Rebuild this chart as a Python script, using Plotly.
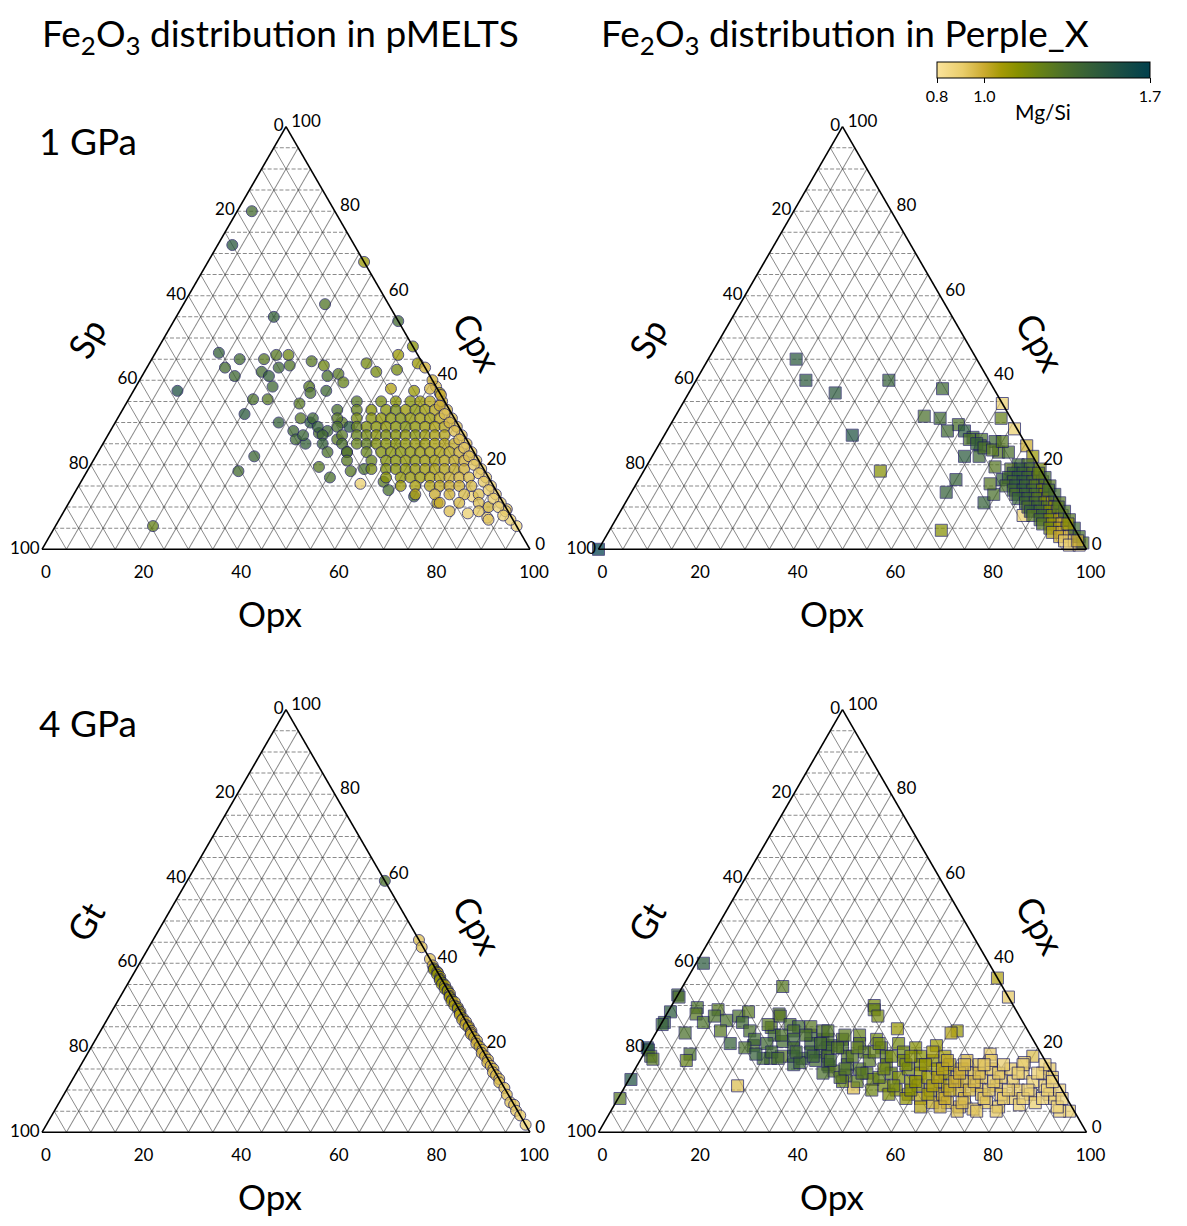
import plotly.graph_objects as go

# ---------------- data: pMELTS 1 GPa (Cpx, Sp, Opx, Mg/Si) ----------------
P1_CPX = [80, 72, 68, 58, 55, 54, 48, 46, 44, 43, 46.5, 43, 41, 45, 45, 42, 41, 46, 46, 43.5,
          43, 38.5, 44.5, 43.5, 41, 41.5, 39.5, 37.5, 38.5, 37, 37.5, 35.5, 35.5, 32, 22, 18.5,
          5.5, 44, 42, 38, 42.5, 37.5, 38.5, 37, 34.5, 31, 28, 30, 26, 25, 27.5, 30, 28, 30, 26, 29,
          23, 18.5, 17, 19.5, 15.5, 19, 16, 14, 12.5, 11, 8.5, 7.5, 10, 5.5, 9.5, 12.5,
          35, 35, 35, 35, 35, 35, 35,
          33, 33, 33, 33, 33, 33, 33, 33, 33, 33,
          31, 31, 31, 31, 31, 31, 31, 31, 31, 31, 31, 31,
          29, 29, 29, 29, 29, 29, 29, 29, 29, 29, 29, 29, 29,
          27, 27, 27, 27, 27, 27, 27, 27, 27, 27, 27, 27, 27, 27,
          25, 25, 25, 25, 25, 25, 25, 25, 25, 25, 25, 25, 25, 25,
          23, 23, 23, 23, 23, 23, 23, 23, 23, 23, 23, 23, 23,
          21, 21, 21, 21, 21, 21, 21, 21, 21, 21, 21, 21,
          19, 19, 19, 19, 19, 19, 19, 19, 19, 19, 19,
          17, 17, 17, 17, 17, 17, 17, 17, 17, 17,
          15, 15, 15, 15, 15, 15, 15, 15,
          13, 13, 13, 13, 13, 13,
          11, 11, 11, 11,
          9, 9, 9,
          7, 7,
          40, 38, 36.5, 34, 32, 30, 28, 26, 24, 22, 20, 18, 16, 14, 12, 10, 8]
P1_OPX = [3, 3, 32, 29, 20, 46, 52, 50, 55, 57, 13, 16, 19, 18, 23, 24, 26, 25, 27.5, 29,
          27, 28, 33, 36, 38, 40, 42, 39.5, 35.5, 36.5, 9, 25.5, 28.5, 25.5, 32.5, 31,
          20, 44.5, 47.5, 52.5, 51.5, 57.5, 61.5, 63, 35.5, 37.5, 37.5, 33.5, 39, 41.5, 43, 40, 44.5, 46.5, 47.5, 48.5,
          51, 54, 50.5, 47, 57.5, 56.5, 62, 64, 70, 75.5, 83, 87.5, 86.5, 94.5, 90.5, 82,
          47, 52, 55, 58, 60, 62, 64.5,
          44, 48, 51, 54, 56, 58, 60, 62, 64, 66.5,
          40, 45, 49, 52, 54, 56, 58, 60, 62, 64, 66, 68.5,
          42, 46, 50, 52, 54, 56, 58, 60, 62, 64, 66, 68, 70.5,
          40, 44, 48, 51, 53, 55, 57, 59, 61, 63, 65, 67, 69, 72.5,
          45, 49, 52, 54, 56, 58, 60, 62, 64, 66, 68, 70, 72, 74.5,
          47, 51, 55, 58, 60, 62, 64, 66, 68, 70, 72, 74, 76.5,
          52, 57, 60, 62, 64, 66, 68, 70, 72, 74, 76, 78.5,
          58, 61, 63, 65, 67, 69, 71, 73, 75, 77, 80.5,
          62, 65, 67, 69, 71, 73, 75, 77, 79, 82.5,
          66, 69, 72, 74, 76, 78, 80.5, 84.5,
          70, 74, 77, 80, 83, 86.5,
          76, 80, 84, 88.5,
          79, 85, 90.5,
          88, 92.5,
          60, 60.5, 63.5, 64.5, 66.5, 68.5, 70.5, 72.5, 74.5, 76.5, 78.5, 80.5, 82.5, 84.5, 86.5, 88.5, 90.5]
P1_SP = [17, 25, 0, 13, 25, 0, 0, 4, 1, 0, 40.5, 41, 40, 37, 32, 34, 33, 29, 26.5, 27.5,
         30, 33.5, 22.5, 20.5, 21, 18.5, 18.5, 23, 26, 26.5, 53.5, 39, 36, 42.5, 45.5, 50.5,
         74.5, 11.5, 10.5, 9.5, 6, 5, 0, 0, 30, 31.5, 34.5, 36.5, 35, 33.5, 29.5, 30, 27.5, 23.5, 26.5, 22.5,
         26, 27.5, 32.5, 33.5, 27, 24.5, 22, 22, 17.5, 13.5, 8.5, 5, 3.5, 0, 0, 5.5,
         18, 13, 10, 7, 5, 3, 0.5,
         23, 19, 16, 13, 11, 9, 7, 5, 3, 0.5,
         29, 24, 20, 17, 15, 13, 11, 9, 7, 5, 3, 0.5,
         29, 25, 21, 19, 17, 15, 13, 11, 9, 7, 5, 3, 0.5,
         33, 29, 25, 22, 20, 18, 16, 14, 12, 10, 8, 6, 4, 0.5,
         30, 26, 23, 21, 19, 17, 15, 13, 11, 9, 7, 5, 3, 0.5,
         30, 26, 22, 19, 17, 15, 13, 11, 9, 7, 5, 3, 0.5,
         27, 22, 19, 17, 15, 13, 11, 9, 7, 5, 3, 0.5,
         23, 20, 18, 16, 14, 12, 10, 8, 6, 4, 0.5,
         21, 18, 16, 14, 12, 10, 8, 6, 4, 0.5,
         19, 16, 13, 11, 9, 7, 4.5, 0.5,
         17, 13, 10, 7, 4, 0.5,
         13, 9, 5, 0.5,
         12, 6, 0.5,
         5, 0.5,
         0, 1.5, 0, 1.5, 1.5, 1.5, 1.5, 1.5, 1.5, 1.5, 1.5, 1.5, 1.5, 1.5, 1.5, 1.5, 1.5]
P1_MG = [1.38, 1.50, 1.10, 1.32, 1.45, 1.38, 1.15, 1.10, 1.10, 1.00, 1.45, 1.38, 1.40, 1.38, 1.30, 1.38, 1.45, 1.30, 1.22, 1.32,
         1.40, 1.40, 1.30, 1.22, 1.35, 1.30, 1.25, 1.40, 1.30, 1.35, 1.55, 1.35, 1.30, 1.50, 1.42, 1.38,
         1.25, 1.20, 1.20, 1.05, 1.20, 1.10, 0.95, 1.05, 1.30, 1.30, 1.40, 1.45, 1.40, 1.45, 1.35, 1.50, 1.40, 1.30, 1.30, 1.50,
         1.30, 1.30, 1.35, 1.30, 0.90, 1.35, 1.30, 1.35, 1.40, 1.05, 0.90, 0.90, 1.00, 0.88, 0.95, 0.88,
         1.30, 1.20, 1.15, 1.15, 1.10, 1.05, 1.00,
         1.35, 1.25, 1.15, 1.15, 1.20, 1.10, 1.15, 1.10, 1.05, 0.97,
         1.40, 1.30, 1.20, 1.15, 1.13, 1.15, 1.17, 1.13, 1.10, 1.10, 1.05, 0.97,
         1.45, 1.35, 1.25, 1.17, 1.15, 1.13, 1.15, 1.17, 1.13, 1.10, 1.07, 1.05, 0.95,
         1.43, 1.40, 1.30, 1.25, 1.20, 1.15, 1.17, 1.15, 1.13, 1.15, 1.10, 1.07, 1.05, 0.95,
         1.45, 1.35, 1.25, 1.27, 1.17, 1.15, 1.15, 1.13, 1.11, 1.10, 1.07, 1.05, 1.02, 0.95,
         1.35, 1.33, 1.25, 1.17, 1.15, 1.15, 1.13, 1.11, 1.09, 1.07, 1.05, 1.01, 0.93,
         1.30, 1.25, 1.17, 1.15, 1.13, 1.13, 1.10, 1.09, 1.05, 1.03, 1.00, 0.93,
         1.20, 1.17, 1.15, 1.13, 1.11, 1.09, 1.07, 1.05, 1.03, 1.00, 0.92,
         1.15, 1.13, 1.11, 1.10, 1.07, 1.05, 1.02, 1.00, 0.97, 0.92,
         1.10, 1.07, 1.05, 1.03, 1.01, 1.00, 0.97, 0.91,
         1.05, 1.01, 1.00, 0.97, 0.95, 0.91,
         1.00, 0.97, 0.95, 0.91,
         0.95, 0.93, 0.90,
         0.93, 0.90,
         1.00, 0.97, 1.00, 1.00, 0.95, 0.97, 0.95, 0.95, 0.93, 0.95, 0.93, 0.92, 0.92, 0.91, 0.91, 0.90, 0.90]

# ---------------- data: Perple_X 1 GPa ----------------
P2_CPX = [45, 40, 37, 40, 38, 34.5, 31, 28.5, 31.5, 31, 27, 18.5, 24.5, 29.5, 28, 28, 26.5, 26, 25.5, 24.5,
          23, 23, 22, 22, 19.5, 16.5, 13.5, 11, 13, 15.5, 16.5, 8, 4.5, 0, 22, 26, 25, 24, 23.5, 25.5,
          20, 20, 19, 19, 19, 18, 18, 18, 17, 17, 17, 17, 16, 16, 16, 16, 15, 15, 15, 15, 15,
          14, 14, 14, 14, 13, 13, 13, 13, 12, 12, 12, 12, 11, 11, 11, 11, 10, 10, 10, 10,
          9, 9, 9, 9, 8, 8, 8, 8, 7, 7, 7, 6, 6, 6, 5, 5, 5, 4, 4, 4, 3, 3, 2, 2, 1, 1,
          19, 17, 15, 13, 11, 9, 7, 5, 3, 1.5, 18, 14, 10, 6, 2]
P2_OPX = [18, 22.5, 30, 39.5, 51.5, 65.5, 67, 71, 51, 54.5, 38.5, 48.5, 75.5, 59, 57.5, 61, 63.5, 65.5, 68.5, 66,
          70.5, 72.5, 64, 67, 71.5, 65, 64.5, 73.5, 74.5, 72.5, 74.5, 83, 68, 0, 78, 63, 65, 67, 69, 70,
          76, 78, 75, 77, 79, 76, 78, 80, 75.5, 77.5, 79.5, 81.5, 77, 79, 81, 83, 76, 78, 80, 82, 84,
          78, 80, 82, 84, 79, 81, 83, 85, 80, 82, 84, 86, 82, 84, 86, 87.5, 83, 85, 87, 88.5,
          84, 86, 88, 89.5, 85, 87, 89, 91, 87, 89, 91, 88, 90, 92, 90, 92, 93.5, 91, 93, 94.5, 93, 95, 94.5, 96.5, 96, 98,
          81, 83, 85, 87, 89, 91, 93, 95, 97, 98.5, 81.2, 85.2, 89.2, 93.2, 97.2]
P2_SP = [37, 37.5, 33, 20.5, 10.5, 0, 2, 0.5, 17.5, 14.5, 34.5, 33, 0, 11.5, 14.5, 11, 10, 8.5, 6, 9.5,
         6.5, 4.5, 14, 11, 9, 18.5, 22, 15.5, 12.5, 12, 9, 9, 27.5, 100, 0, 11, 10, 9, 7.5, 4.5,
         4, 2, 6, 4, 2, 6, 4, 2, 7.5, 5.5, 3.5, 1.5, 7, 5, 3, 1, 9, 7, 5, 3, 1,
         8, 6, 4, 2, 8, 6, 4, 2, 8, 6, 4, 2, 7, 5, 3, 1.5, 7, 5, 3, 1.5,
         7, 5, 3, 1.5, 7, 5, 3, 1, 6, 4, 2, 6, 4, 2, 5, 3, 1.5, 5, 3, 1.5, 4, 2, 3.5, 1.5, 3, 1,
         0, 0, 0, 0, 0, 0, 0, 0, 0, 0, 0.8, 0.8, 0.8, 0.8, 0.8]
P2_MG = [1.50, 1.50, 1.50, 1.45, 1.40, 0.90, 1.25, 0.90, 1.35, 1.40, 1.55, 1.15, 1.00, 1.35, 1.40, 1.50, 1.40, 1.35, 1.40, 1.40,
         1.30, 1.35, 1.50, 1.40, 1.30, 1.45, 1.45, 1.45, 1.35, 1.30, 1.45, 0.90, 1.15, 1.70, 1.10, 1.35, 1.45, 1.35, 1.30, 1.30,
         1.40, 1.35, 1.30, 1.45, 1.35, 1.45, 1.40, 1.30, 1.40, 1.45, 1.40, 1.25, 1.40, 1.45, 1.35, 1.20, 1.35, 1.45, 1.40, 1.30, 1.15,
         1.40, 1.45, 1.35, 1.20, 1.35, 1.40, 1.35, 1.15, 1.45, 1.40, 1.30, 1.10, 1.40, 1.35, 1.20, 1.05, 1.35, 1.40, 1.30, 1.10,
         1.45, 1.35, 1.15, 1.00, 1.30, 1.40, 1.20, 1.00, 1.35, 1.15, 1.05, 1.30, 1.10, 1.00, 1.20, 1.05, 0.95, 1.05, 1.00, 0.95, 1.00, 0.95, 0.92, 0.90, 0.90, 0.88,
         1.20, 1.35, 1.30, 1.40, 1.30, 1.35, 1.30, 1.40, 1.35, 1.30, 1.25, 1.35, 1.30, 1.10, 1.00]

# ---------------- data: pMELTS 4 GPa (Cpx, Gt, Opx, Mg/Si) ----------------
P3_CPX = [59.5, 45.5, 43.8, 41, 39.5, 38.8, 38.5, 38, 37.7, 37.3, 36.8, 36.3, 36, 35.4, 35, 34.8, 34, 33.7, 33.4, 32.8,
          32.3, 32, 31.4, 31, 30.8, 30, 29.6, 29.2, 28.5, 28.2, 27.8, 27, 26.6, 26.2, 25.5, 25.1, 24.8, 24, 23.6, 23.2,
          22.5, 21.7, 21, 20.3, 19.5, 18.8, 18, 17.2, 16.5, 15.7, 15, 14.2, 13.5, 12.6, 11.8, 10.5, 8.9, 7.1, 6.5, 5.1,
          4.0, 1.8]
P3_GT = [0, 0, 0.3, 0, 0.2, 0.3, 0.5, 0, 0, 0.4, 0, 0.3, 0.5, 0.2, 0.6, 0, 0.5, 0, 0.2, 0,
         0.3, 0.5, 0.3, 0.6, 0, 0.5, 0, 0.2, 0, 0.3, 0.5, 0.2, 0.6, 0, 0.5, 0, 0.2, 0, 0.3, 0.5,
         0.2, 0, 0.5, 0.2, 0, 0.5, 0.2, 0, 0.5, 0.2, 0, 0.5, 0.2, 0, 0.4, 0, 0.3, 0.5, 0, 0.3,
         0, 0]
P3_OPX = [40.5, 54.5, 55.9, 59, 60.3, 60.9, 61, 62, 62.3, 62.3, 63.2, 63.4, 63.5, 64.4, 64.4, 65.2, 65.5, 66.3, 66.4, 67.2,
          67.4, 67.5, 68.3, 68.4, 69.2, 69.5, 70.4, 70.6, 71.5, 71.5, 71.7, 72.8, 72.8, 73.8, 74, 74.9, 75, 76, 76.1, 76.3,
          77.3, 78.3, 78.5, 79.5, 80.5, 80.7, 81.8, 82.8, 83, 84.1, 85, 85.3, 86.3, 87.4, 87.8, 89.5, 90.8, 92.4, 93.5, 94.6,
          96, 98.2]
P3_MG = [1.35, 0.95, 0.95, 0.95, 1.00, 1.10, 1.12, 1.07, 1.04, 1.14, 1.07, 1.12, 1.12, 1.17, 1.10, 1.07, 1.10, 1.04, 1.14, 1.02,
         1.10, 1.07, 1.12, 1.07, 1.02, 1.07, 1.04, 1.10, 1.02, 1.07, 1.04, 1.07, 1.02, 1.00, 1.02, 0.99, 1.05, 0.99, 1.00, 1.00,
         1.02, 0.98, 0.99, 1.02, 0.97, 0.98, 1.00, 0.97, 0.98, 0.96, 0.97, 0.95, 0.97, 0.95, 0.96, 0.94, 0.95, 0.94, 0.94, 0.92,
         0.92, 0.90]

# ---------------- data: Perple_X 4 GPa ----------------
P4_CPX = [40, 32.5, 32, 28.5, 26, 25.5, 20, 19.5, 18, 17.3, 12.5, 8, 29.5, 28, 26, 29, 27.5, 26.5, 24, 27.5,
          28.5, 26, 23.5, 21, 20.5, 18.5, 17, 34.5, 11, 30, 29, 27.5, 24.5, 24, 23.5, 20.5, 36.5, 32, 18.5, 18,
          16.5, 15, 5, 10.5,
          28, 24.8, 27.5, 25.5, 25, 23, 23, 21.5, 17.5, 17.5, 18, 16, 17.5, 19, 15.5, 20.5, 22,
          24, 22, 20, 18.5, 25.5, 21, 19, 23, 17.5,
          24, 22, 20, 18, 16.5, 21, 19, 25, 17, 22, 20, 24,
          18, 16, 22, 20, 14.5, 18, 23, 16, 21, 13.5, 19, 15, 17, 22, 12,
          20, 14, 18, 16, 12.5, 21, 14, 19, 11, 17, 13, 15, 20, 10,
          18, 12, 16, 14, 9, 17, 11, 13, 15, 8, 18, 10, 12, 14, 16, 7,
          9, 11, 13, 15, 17, 7, 10, 12, 14, 16, 6, 8, 11, 13, 15, 9, 5.5, 17,
          7, 11, 13, 15, 9, 6, 12, 14, 8, 10, 16, 6.5, 12, 9, 14,
          7, 11, 13, 9, 8, 10, 5, 16,
          19, 23, 18, 21, 24, 14, 17, 20, 23, 13, 15, 18, 20, 12, 14, 19, 21, 10, 13, 15, 18,
          9, 11, 16, 18, 8, 10, 12, 16, 19, 6, 9, 11, 13, 15, 17, 6, 8, 10, 12, 14, 16,
          5, 7, 10, 12, 14, 16, 5, 8, 10, 12, 14, 16, 5, 8, 10, 14, 8, 10, 14, 8, 10, 12, 6, 8]
P4_OPX = [1.5, 0, 0.5, 0.5, 0.5, 0.3, 0, 0.5, 1.7, 2.5, 0.4, 0.4, 5.5, 6, 8.5, 10, 10, 13, 13, 15,
          16.5, 16.5, 6, 16.5, 21.5, 9.5, 9.5, 20.5, 23, 41.5, 42, 43.5, 49, 61.5, 60.5, 59, 63.5, 68, 71, 80,
          79, 85, 94, 47,
          23, 23, 23.5, 26.5, 28.5, 32, 24.5, 27, 26.5, 25, 28.5, 32, 33, 36, 39.5, 37.5, 35,
          19, 21, 20, 23, 22, 24, 26, 26, 28,
          28, 29, 30, 31, 33, 33, 34, 31, 36, 36, 37, 34,
          38, 39, 39, 40, 41, 42, 42, 43, 43, 44, 45, 46, 47, 46, 44,
          48, 48, 50, 51, 50, 51, 53, 53, 53, 54, 55, 56, 55, 56,
          57, 58, 58, 59, 59, 60, 60, 61, 62, 62, 62, 63, 64, 64, 64, 65,
          66, 66, 67, 67, 67, 68, 69, 69, 70, 70, 71, 71, 72, 72, 73, 74, 74, 72,
          76, 76, 76, 77, 78, 79, 79, 80, 81, 81, 79, 83, 83, 84, 84,
          86, 86, 86.5, 88, 89.5, 89.5, 92, 83.5,
          31, 31, 35, 35, 35, 39, 39, 39, 39, 43, 43, 43, 43, 47, 47, 47, 47, 51, 51, 51, 51,
          55, 55, 55, 55, 59, 59, 59, 59, 59, 63, 63, 63, 63, 63, 63, 67, 67, 67, 67, 67, 67,
          71, 71, 71, 71, 71, 71, 75, 75, 75, 75, 75, 75, 79, 79, 79, 79, 83, 83, 83, 87, 87, 87, 91, 91]
P4_GT = [58.5, 67.5, 67.5, 71, 73.5, 74.2, 80, 80, 80.3, 80.2, 87.1, 91.6, 65, 66, 65.5, 61, 62.5, 60.5, 63, 57.5,
         55, 57.5, 70.5, 62.5, 58, 72, 73.5, 45, 66, 28.5, 29, 29, 26.5, 14.5, 16, 20.5, 0, 0, 10.5, 2,
         4.5, 0, 1, 42.5,
         49, 52.2, 49, 48, 46.5, 45, 52.5, 51.5, 56, 57.5, 53.5, 52, 49.5, 45, 45, 42, 43,
         57, 57, 60, 58.5, 52.5, 55, 55, 51, 54.5,
         48, 49, 50, 51, 50.5, 46, 47, 44, 47, 42, 43, 42,
         44, 45, 39, 40, 44.5, 40, 35, 41, 36, 42.5, 36, 39, 36, 32, 44,
         32, 38, 32, 33, 37.5, 28, 33, 28, 36, 29, 32, 29, 25, 34,
         25, 30, 26, 27, 32, 23, 29, 26, 23, 30, 20, 27, 24, 22, 20, 28,
         25, 23, 20, 18, 16, 25, 21, 19, 16, 14, 23, 21, 17, 15, 12, 17, 20.5, 11,
         17, 13, 11, 8, 13, 15, 9, 6, 11, 9, 5, 10.5, 5, 7, 2,
         7, 3, 0.5, 3, 2.5, 0.5, 3, 0.5,
         50, 46, 47, 44, 41, 47, 44, 41, 38, 44, 42, 39, 37, 41, 39, 34, 32, 39, 36, 34, 31,
         36, 34, 29, 27, 33, 31, 29, 25, 22, 31, 28, 26, 24, 22, 20, 27, 25, 23, 21, 19, 17,
         24, 22, 19, 17, 15, 13, 20, 17, 15, 13, 11, 9, 16, 13, 11, 7, 9, 7, 3, 5, 3, 1, 3, 1]
P4_MG = [1.50, 1.40, 1.35, 1.50, 1.45, 1.45, 1.55, 1.50, 1.30, 1.30, 1.55, 1.30, 1.35, 1.30, 1.35, 1.30, 1.35, 1.35, 1.30, 1.35,
         1.30, 1.40, 1.35, 1.45, 1.35, 1.35, 1.25, 1.30, 0.95, 1.20, 1.25, 1.20, 1.10, 1.10, 1.05, 1.10, 1.05, 0.92, 0.92, 0.95,
         0.90, 0.92, 0.90, 0.95,
         1.30, 1.30, 1.30, 1.35, 1.40, 1.40, 1.40, 1.38, 1.35, 1.40, 1.30, 1.45, 1.40, 1.40, 1.40, 1.35, 1.40,
         1.35, 1.40, 1.35, 1.45, 1.30, 1.40, 1.40, 1.35, 1.38,
         1.35, 1.42, 1.38, 1.45, 1.40, 1.40, 1.42, 1.30, 1.38, 1.35, 1.40, 1.32,
         1.35, 1.38, 1.30, 1.35, 1.30, 1.32, 1.25, 1.35, 1.30, 1.28, 1.30, 1.32, 1.30, 1.22, 1.25,
         1.25, 1.30, 1.28, 1.25, 1.22, 1.20, 1.25, 1.22, 1.20, 1.20, 1.18, 1.20, 1.15, 1.15,
         1.15, 1.15, 1.18, 1.12, 1.10, 1.12, 1.12, 1.10, 1.10, 1.05, 1.08, 1.08, 1.05, 1.08, 1.05, 1.02,
         1.02, 1.05, 1.02, 1.00, 0.98, 0.98, 1.00, 1.00, 0.97, 0.95, 0.96, 0.97, 0.96, 0.95, 0.94, 0.95, 0.93, 0.92,
         0.93, 0.94, 0.93, 0.92, 0.93, 0.92, 0.93, 0.90, 0.92, 0.92, 0.90, 0.90, 0.90, 0.91, 0.90,
         0.90, 0.90, 0.90, 0.90, 0.89, 0.88, 0.88, 0.88,
         1.40, 1.35, 1.42, 1.38, 1.32, 1.35, 1.38, 1.32, 1.28, 1.30, 1.33, 1.30, 1.27, 1.28, 1.30, 1.25, 1.22, 1.22, 1.25, 1.22, 1.20,
         1.18, 1.20, 1.18, 1.15, 1.12, 1.14, 1.12, 1.10, 1.08, 1.05, 1.08, 1.06, 1.05, 1.04, 1.02, 1.00, 1.01, 1.02, 1.00, 0.99, 0.97,
         0.95, 0.96, 0.97, 0.96, 0.95, 0.93, 0.93, 0.94, 0.94, 0.93, 0.92, 0.91, 0.92, 0.92, 0.91, 0.90, 0.90, 0.90, 0.89, 0.89, 0.89, 0.88, 0.88, 0.88]

TICK_ALIAS = {"0": "100", "20": "80", "40": "60", "60": "40", "80": "20", "100": "0"}
CBAR_TICKS = [0.8, 1.0, 1.7]
CBAR_TEXT = ["0.8", "1.0", "1.7"]

# ---------------- styling ----------------
FONT = "Lato"
PAGE_OFF = 8                     # the page body margin around the figure
FW, FH = 1171, 1210              # figure size (fits the 1187 x 1226 window with the margin)
COLORSCALE = [
    [0.00, "#fbe39b"], [0.12, "#e9cd6b"], [0.22, "#cbab30"], [0.30, "#a59a06"],
    [0.38, "#879000"], [0.48, "#688214"], [0.60, "#4b6f2a"], [0.72, "#345f38"],
    [0.86, "#1b4e44"], [1.00, "#003f4c"],
]


def px(x):
    """page x (pixels) -> paper fraction"""
    return (x - PAGE_OFF) / FW


def py(y):
    """page y (pixels, from top) -> paper fraction"""
    return 1 - (y - PAGE_OFF) / FH


def tern_axis(dash, ticklen):
    return dict(
        tickmode="linear", tick0=0, dtick=5, ticklabelstep=4, labelalias=TICK_ALIAS,
        showgrid=True, gridcolor="rgba(60,60,60,0.6)", gridwidth=0.6, griddash=dash,
        showline=True, linecolor="black", linewidth=1.6,
        ticks="outside" if ticklen else "", ticklen=ticklen, tickcolor="rgba(0,0,0,0)",
        tickfont=dict(size=17, color="black", family=FONT),
        title=dict(text=""), min=0,
    )


def tern(x0, x1, ytop, ybot):
    return dict(
        domain=dict(x=[px(x0), px(x1)], y=[py(ybot), py(ytop)]),
        sum=100, bgcolor="white",
        aaxis=tern_axis("4px,2px", 0), baxis=tern_axis("solid", 8), caxis=tern_axis("solid", 4),
    )


TRI_W = 488
TRI_H = TRI_W * 3 ** 0.5 / 2
CENTERS = {"ternary": (286, 338), "ternary2": (842.5, 338),
           "ternary3": (286, 921), "ternary4": (842.5, 921)}

fig = go.Figure()


def add(subplot, cpx, sp, opx, mg, symbol, size, alpha):
    fig.add_trace(go.Scatterternary(
        a=cpx, b=sp, c=opx, mode="markers", subplot=subplot, showlegend=False, cliponaxis=False,
        marker=dict(symbol=symbol, size=size, color=mg, coloraxis="coloraxis", opacity=alpha,
                    line=dict(color="#1c1c5c", width=1)),
    ))


add("ternary", P1_CPX, P1_SP, P1_OPX, P1_MG, "circle", 11, 0.75)
add("ternary2", P2_CPX, P2_SP, P2_OPX, P2_MG, "square", 12, 0.72)
add("ternary3", P3_CPX, P3_GT, P3_OPX, P3_MG, "circle", 11, 0.75)
add("ternary4", P4_CPX, P4_GT, P4_OPX, P4_MG, "square", 12, 0.72)

layout_terns = {}
for key, (cx, cy) in CENTERS.items():
    layout_terns[key] = tern(cx - TRI_W / 2, cx + TRI_W / 2, cy - TRI_H / 2, cy + TRI_H / 2)

ann = []


def text(x, y, s, size, angle=0, xanchor="center", yanchor="middle"):
    ann.append(dict(x=px(x), y=py(y), xref="paper", yref="paper", text=s, showarrow=False,
                    textangle=angle, xanchor=xanchor, yanchor=yanchor,
                    font=dict(size=size, color="black", family=FONT)))


text(280, 8, "Fe<sub>2</sub>O<sub>3</sub> distribution in pMELTS", 37, yanchor="top")
text(845, 8, "Fe<sub>2</sub>O<sub>3</sub> distribution in Perple_X", 37, yanchor="top")
text(37, 140, "1 GPa", 37, xanchor="left")
text(37, 722, "4 GPa", 37, xanchor="left")
for (sx, cx_, ox, yoff, lab) in [(86, 478, 270, 0, "Sp"), (647, 1041, 832, 0, "Sp"),
                                  (85, 478, 270, 583, "Gt"), (646, 1041, 832, 583, "Gt")]:
    text(sx, 338 + yoff, lab, 35, angle=-60)
    text(cx_, 342 + yoff, "Cpx", 35, angle=60)
    text(ox, 636 + yoff, "Opx", 35, yanchor="bottom")
text(1043, 112, "Mg/Si", 21)

fig.update_layout(
    width=FW, height=FH, margin=dict(l=0, r=0, t=0, b=0, autoexpand=False),
    paper_bgcolor="white", plot_bgcolor="white",
    font=dict(family=FONT, color="black"),
    annotations=ann,
    coloraxis=dict(
        cmin=0.8, cmax=1.7, colorscale=COLORSCALE,
        colorbar=dict(orientation="h", x=px(1043.5), xanchor="center", y=py(62), yanchor="top",
                      len=213 / FW, lenmode="fraction", thickness=16, thicknessmode="pixels",
                      outlinecolor="black", outlinewidth=1, xpad=0, ypad=0,
                      tickmode="array", tickvals=CBAR_TICKS, ticktext=CBAR_TEXT,
                      ticks="outside", ticklen=5, tickcolor="black",
                      tickfont=dict(size=16, family=FONT, color="black")),
    ),
    **layout_terns,
)

fig.write_html("out.html")
